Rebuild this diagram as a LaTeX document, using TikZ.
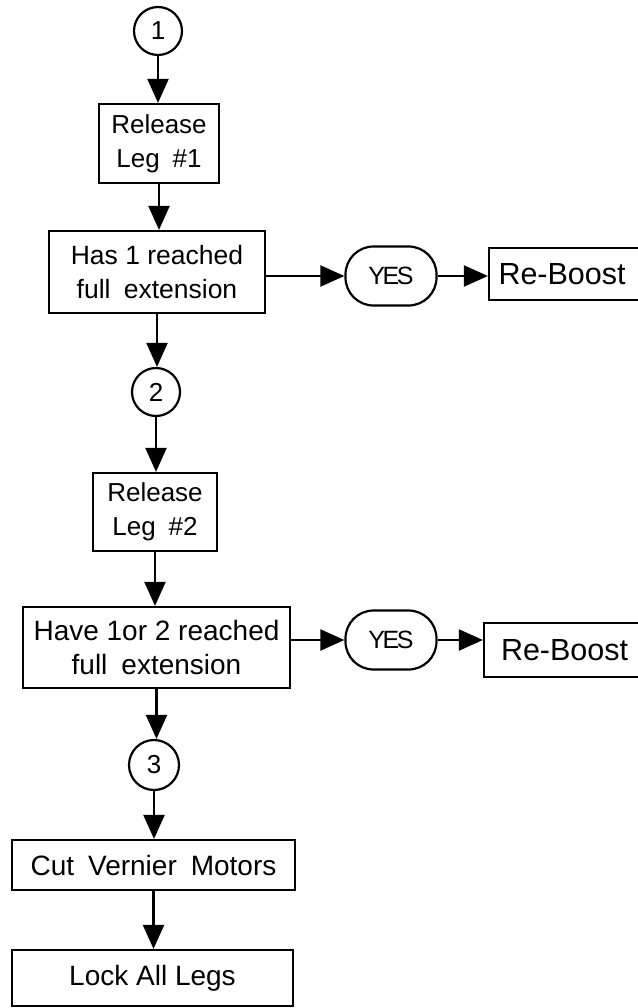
\documentclass[tikz,border=0pt]{standalone}
\usepackage{fontspec}
\setmainfont{Liberation Sans}
\usetikzlibrary{arrows.meta}
\newcommand{\fs}[1]{\fontsize{#1}{34}\selectfont}
\begin{document}
\begin{tikzpicture}[x=1pt,y=-1pt,
  every path/.style={line width=2.2pt},
  txt/.style={font=\fs{26}, align=center, inner sep=0pt},
  stepbox/.style={txt, draw, rectangle},
  conn/.style={txt, draw, circle, minimum size=48pt, font=\fs{26}},
  answer/.style={txt, draw, rectangle, rounded corners=28pt, minimum width=91pt, minimum height=59pt, font=\fs{25}},
  flow/.style={-{Triangle[length=24pt,width=21pt]}, line width=2.2pt}
]
\useasboundingbox (0,0) rectangle (637,1008);

% main column
\node[conn] (c1) at (158,31) {1};
\node[stepbox, minimum width=120pt, minimum height=79pt] (rel1) at (159,143.5) {Release\\Leg\enspace\#1};
\node[stepbox, minimum width=216pt, minimum height=82pt, font=\fs{26.5}] (has1) at (157,272) {Has 1 reached\\full\enspace extension};
\node[conn] (c2) at (156,392) {2};
\node[stepbox, minimum width=124pt, minimum height=78pt] (rel2) at (155,512) {Release\\Leg\enspace\#2};
\node[stepbox, minimum width=267pt, minimum height=81pt, font=\fs{28}] (have) at (156.5,647.5) {Have 1or 2 reached\\full\enspace extension};
\node[conn, minimum size=50pt] (c3) at (154,765) {3};
\node[stepbox, minimum width=283pt, minimum height=50pt, font=\fs{28}] (cut) at (153.5,865) {Cut\enspace Vernier\enspace Motors};
\node[stepbox, minimum width=281pt, minimum height=56pt, font=\fs{28}] (lock) at (152.5,978) {Lock All Legs};

% side branches
\node[answer] (yes1) at (391,276) {Y\kern-2.5ptE\kern-2.5ptS};
\node[stepbox, minimum width=161pt, minimum height=52pt, text width=150pt, align=left, font=\fs{30.5}] (rb1) at (569.5,274) {\hspace*{4pt}Re-Boost};
\node[answer] (yes2) at (391,640) {Y\kern-2.5ptE\kern-2.5ptS};
\node[stepbox, minimum width=166pt, minimum height=54pt, text width=150pt, align=left, font=\fs{30.5}] (rb2) at (567,650) {\hspace*{9pt}Re-Boost};

% vertical flow
\draw[flow] (c1.south) -- (c1.south |- rel1.north);
\draw[flow] (rel1.south) -- (rel1.south |- has1.north);
\draw[flow] (has1.south) -- (has1.south |- c2.north);
\draw[flow] (c2.south) -- (c2.south |- rel2.north);
\draw[flow] (rel2.south) -- (rel2.south |- have.north);
\draw[flow] (have.south) -- (have.south |- c3.north);
\draw[flow] (c3.south) -- (c3.south |- cut.north);
\draw[flow] (cut.south) -- (cut.south |- lock.north);

% horizontal flow
\draw[flow] (has1.east |- yes1.west) -- (yes1.west);
\draw[flow] (yes1.east) -- (yes1.east -| rb1.west);
\draw[flow] (have.east |- yes2.west) -- (yes2.west);
\draw[flow] (yes2.east) -- (yes2.east -| rb2.west);
\end{tikzpicture}
\end{document}
